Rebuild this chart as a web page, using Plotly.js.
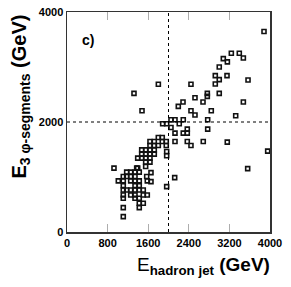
<!DOCTYPE html>
<html><head><meta charset="utf-8">
<script src="https://cdn.plot.ly/plotly-3.0.1.min.js"></script>
<style>html,body{margin:0;padding:0;background:#fff}#c{width:291px;height:287px}</style>
</head><body><div id="c"></div>
<script>
const xTicks = [0, 800, 1600, 2400, 3200, 4000];
const yTicks = [0, 2000, 4000];
const cutX = 2000;
const cutY = 2000;
const eHadron = [3882,1320,1800,1478,2443,3080,3238,3395,3160,3475,3000,2922,3153,3000,3567,2922,2765,2765,2522,3000,2286,2193,2680,2443,2843,3475,2522,3324,
 1885,1964,2049,2128,2212,2291,2049,2128,2291,2370,2370,2772,2772,2128,2370,2443,2685,3158,3954,3560,2122,1964,1964,1964,
 1799,1877,1877,1956,1956,1635,1720,1635,1720,1799,1550,1635,1720,1472,1472,1550,1635,1720,1393,1472,1550,1635,1550,1635,1550,1393,1655,1655,
 926,1373,1176,1255,1340,1424,1109,1176,1255,1340,1570,1011,1109,1255,1340,1424,1582,1109,1340,1424,1109,1176,1255,1340,1424,1503,1109,1255,1340,1503,1582,1109,1340,1424,1424,1503,1424,1109,1109];
const e3Phi = [3645,2520,2685,2205,2685,3153,3250,3250,3093,3165,3000,2843,2843,2770,2765,2692,2520,2466,2442,2520,2364,2284,2364,2205,2205,2364,2127,2114,
 1968,1968,2041,2041,1968,2041,1900,1798,1798,1798,1871,1871,2041,1645,1645,1572,1645,1634,1470,1153,989,825,1463,1385,
 1718,1718,1645,1645,1572,1645,1645,1572,1572,1572,1494,1494,1494,1494,1416,1416,1416,1416,1343,1343,1343,1343,1270,1270,1190,1161,1080,916,
 1161,1161,1088,1088,1088,1088,1008,1008,1008,1008,1008,929,929,929,929,929,929,844,844,844,765,765,765,765,765,765,674,674,674,674,674,614,614,614,523,523,443,443,279];

const F = 'Liberation Sans, Arial, Helvetica, sans-serif';
const data = [{
  x: eHadron, y: e3Phi, type: 'scatter', mode: 'markers',
  marker: {symbol: 'square-open', size: 4, color: '#111', line: {width: 1.6, color: '#111'}},
  hoverinfo: 'skip', showlegend: false
}];
const layout = {
  width: 291, height: 287,
  margin: {l: 67, r: 21, t: 12, b: 55},
  paper_bgcolor: '#fff', plot_bgcolor: '#fff',
  font: {family: F, color: '#000'},
  xaxis: {
    range: [0, 4000], tickvals: xTicks, ticktext: xTicks.map(String),
    ticks: 'inside', ticklen: 8, tickwidth: 0.8, tickcolor: '#999',
    showline: true, linewidth: 1.5, linecolor: '#333', mirror: 'ticks',
    showgrid: false, zeroline: false,
    tickfont: {family: F, size: 11, color: '#000', weight: 'bold'}
  },
  yaxis: {
    range: [0, 4000], tickvals: yTicks, ticktext: yTicks.map(String),
    ticks: '', showline: true, linewidth: 1.5, linecolor: '#333', mirror: true,
    showgrid: false, zeroline: false,
    tickfont: {family: F, size: 11, color: '#000', weight: 'bold'}
  },
  shapes: [
    {type: 'line', xref: 'x', yref: 'paper', x0: cutX, x1: cutX, y0: 0, y1: 1, line: {color: '#000', width: 1, dash: '3px,3px'}},
    {type: 'line', xref: 'paper', yref: 'y', x0: 0, x1: 1, y0: cutY, y1: cutY, line: {color: '#000', width: 1, dash: '3px,3px'}}
  ],
  annotations: [
    {text: '<b>c)</b>', xref: 'x', yref: 'y', x: 420, y: 3500, showarrow: false, font: {family: F, size: 14, color: '#000'}},
    {text: 'E<sub><b>hadron jet</b></sub><b> (GeV)</b>', xref: 'paper', yref: 'paper', x: 1, y: 0, xanchor: 'right', yanchor: 'top', yshift: -20, xshift: 2,
     showarrow: false, font: {family: F, size: 19, color: '#000'}},
    {text: '<b>E<sub>3 φ-segments</sub> (GeV)</b>', xref: 'paper', yref: 'paper', x: 0, y: 1, xanchor: 'left', yanchor: 'top', xshift: -62, yshift: -1,
     textangle: -90, showarrow: false, font: {family: F, size: 20, color: '#000'}}
  ]
};
Plotly.newPlot('c', data, layout, {displayModeBar: false, staticPlot: true});
</script></body></html>
